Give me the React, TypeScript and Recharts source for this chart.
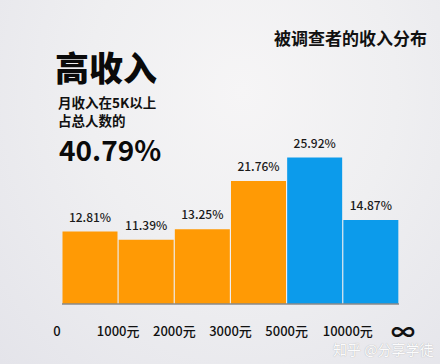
import React from 'react';
import { BarChart, Bar, XAxis, YAxis, Cell, LabelList } from 'recharts';

const bins = ['0-1000', '1000-2000', '2000-3000', '3000-5000', '5000-10000', '10000+'];
const shares = [12.81, 11.39, 13.25, 21.76, 25.92, 14.87];
const highIncome = [false, false, false, false, true, true];
const edgeTicks = [0, 1, 2, 3, 4, 5, 6];
const edgeLabels = ['0', '1000元', '2000元', '3000元', '5000元', '10000元', '∞'];

const data = bins.map((b, i) => ({ bin: b, share: shares[i], edge: i + 0.5 }));

const FONT = '"Noto Sans CJK SC", "Noto Sans", sans-serif';

const EdgeTick = (props: any) => {
  const { x, y, payload } = props;
  const label = edgeLabels[payload.value];
  const isInf = label === '∞';
  const dx = payload.value === 0 ? -5 : payload.value === 5 ? 5 : payload.value === 6 ? 4 : 0;
  return (
    <text
      x={x + dx}
      y={y}
      dy={isInf ? 10 : 5}
      textAnchor="middle"
      fontFamily={FONT}
      fontSize={isInf ? 24 : 13}
      fontWeight={isInf ? 700 : 500}
      fill="#111"
    >
      {label}
    </text>
  );
};

export default function App() {
  return (
    <div
      style={{
        position: 'absolute',
        left: 0,
        top: 0,
        width: 440,
        height: 364,
        overflow: 'hidden',
        background: 'radial-gradient(ellipse at 55% 25%, #f6f5f6 0%, #efeff1 45%, #e4e4ea 100%)',
        fontFamily: FONT,
      }}
    >
      <div style={{ position: 'absolute', left: 274, top: 26, fontSize: 17, fontWeight: 700, color: '#111', whiteSpace: 'nowrap', lineHeight: '24px' }}>
        被调查者的收入分布
      </div>
      <div style={{ position: 'absolute', left: 55, top: 46, fontSize: 34, fontWeight: 900, color: '#0a0a0a', whiteSpace: 'nowrap', lineHeight: '42px' }}>
        高收入
      </div>
      <div style={{ position: 'absolute', left: 58, top: 93, fontSize: 13.5, fontWeight: 700, color: '#111', whiteSpace: 'nowrap', lineHeight: '18px' }}>
        月收入在5K以上
      </div>
      <div style={{ position: 'absolute', left: 58, top: 111, fontSize: 13.5, fontWeight: 700, color: '#111', whiteSpace: 'nowrap', lineHeight: '18px' }}>
        占总人数的
      </div>
      <div style={{ position: 'absolute', left: 59, top: 132, fontSize: 28, fontWeight: 700, color: '#0a0a0a', whiteSpace: 'nowrap', lineHeight: '34px' }}>
        40.79%
      </div>
      <div style={{ position: 'absolute', left: 333, top: 340, fontSize: 14, color: '#ffffff', opacity: 0.9, whiteSpace: 'nowrap', lineHeight: '18px', textShadow: '0 0 1px #999' }}>
        知乎 @分享学徒
      </div>
      <div style={{ position: 'absolute', left: 0, top: 0 }}>
        <BarChart
          width={440}
          height={364}
          data={data}
          margin={{ top: 134.5, right: 41, bottom: 30, left: 62 }}
          barCategoryGap={0.5}
        >
          <XAxis dataKey="bin" hide xAxisId="cat" height={0} />
          <XAxis
            xAxisId="edges"
            dataKey="edge"
            type="number"
            domain={[0, 6]}
            ticks={edgeTicks}
            interval={0}
            height={30}
            tickLine={false}
            tickSize={0}
            tickMargin={27}
            axisLine={{ stroke: '#8a8a8a', strokeWidth: 1.5 }}
            tick={<EdgeTick />}
          />
          <YAxis hide domain={[0, 30]} width={0} />
          <Bar dataKey="share" xAxisId="cat" isAnimationActive={false}>
            {data.map((d, i) => (
              <Cell key={d.bin} fill={highIncome[i] ? '#0C9BEB' : '#FF9A05'} />
            ))}
            <LabelList
              dataKey="share"
              position="top"
              offset={10}
              formatter={(v: any) => `${v}%`}
              style={{ fontFamily: FONT, fontSize: 12, fill: '#1a1a1a', fontWeight: 500 }}
            />
          </Bar>
        </BarChart>
      </div>
    </div>
  );
}
